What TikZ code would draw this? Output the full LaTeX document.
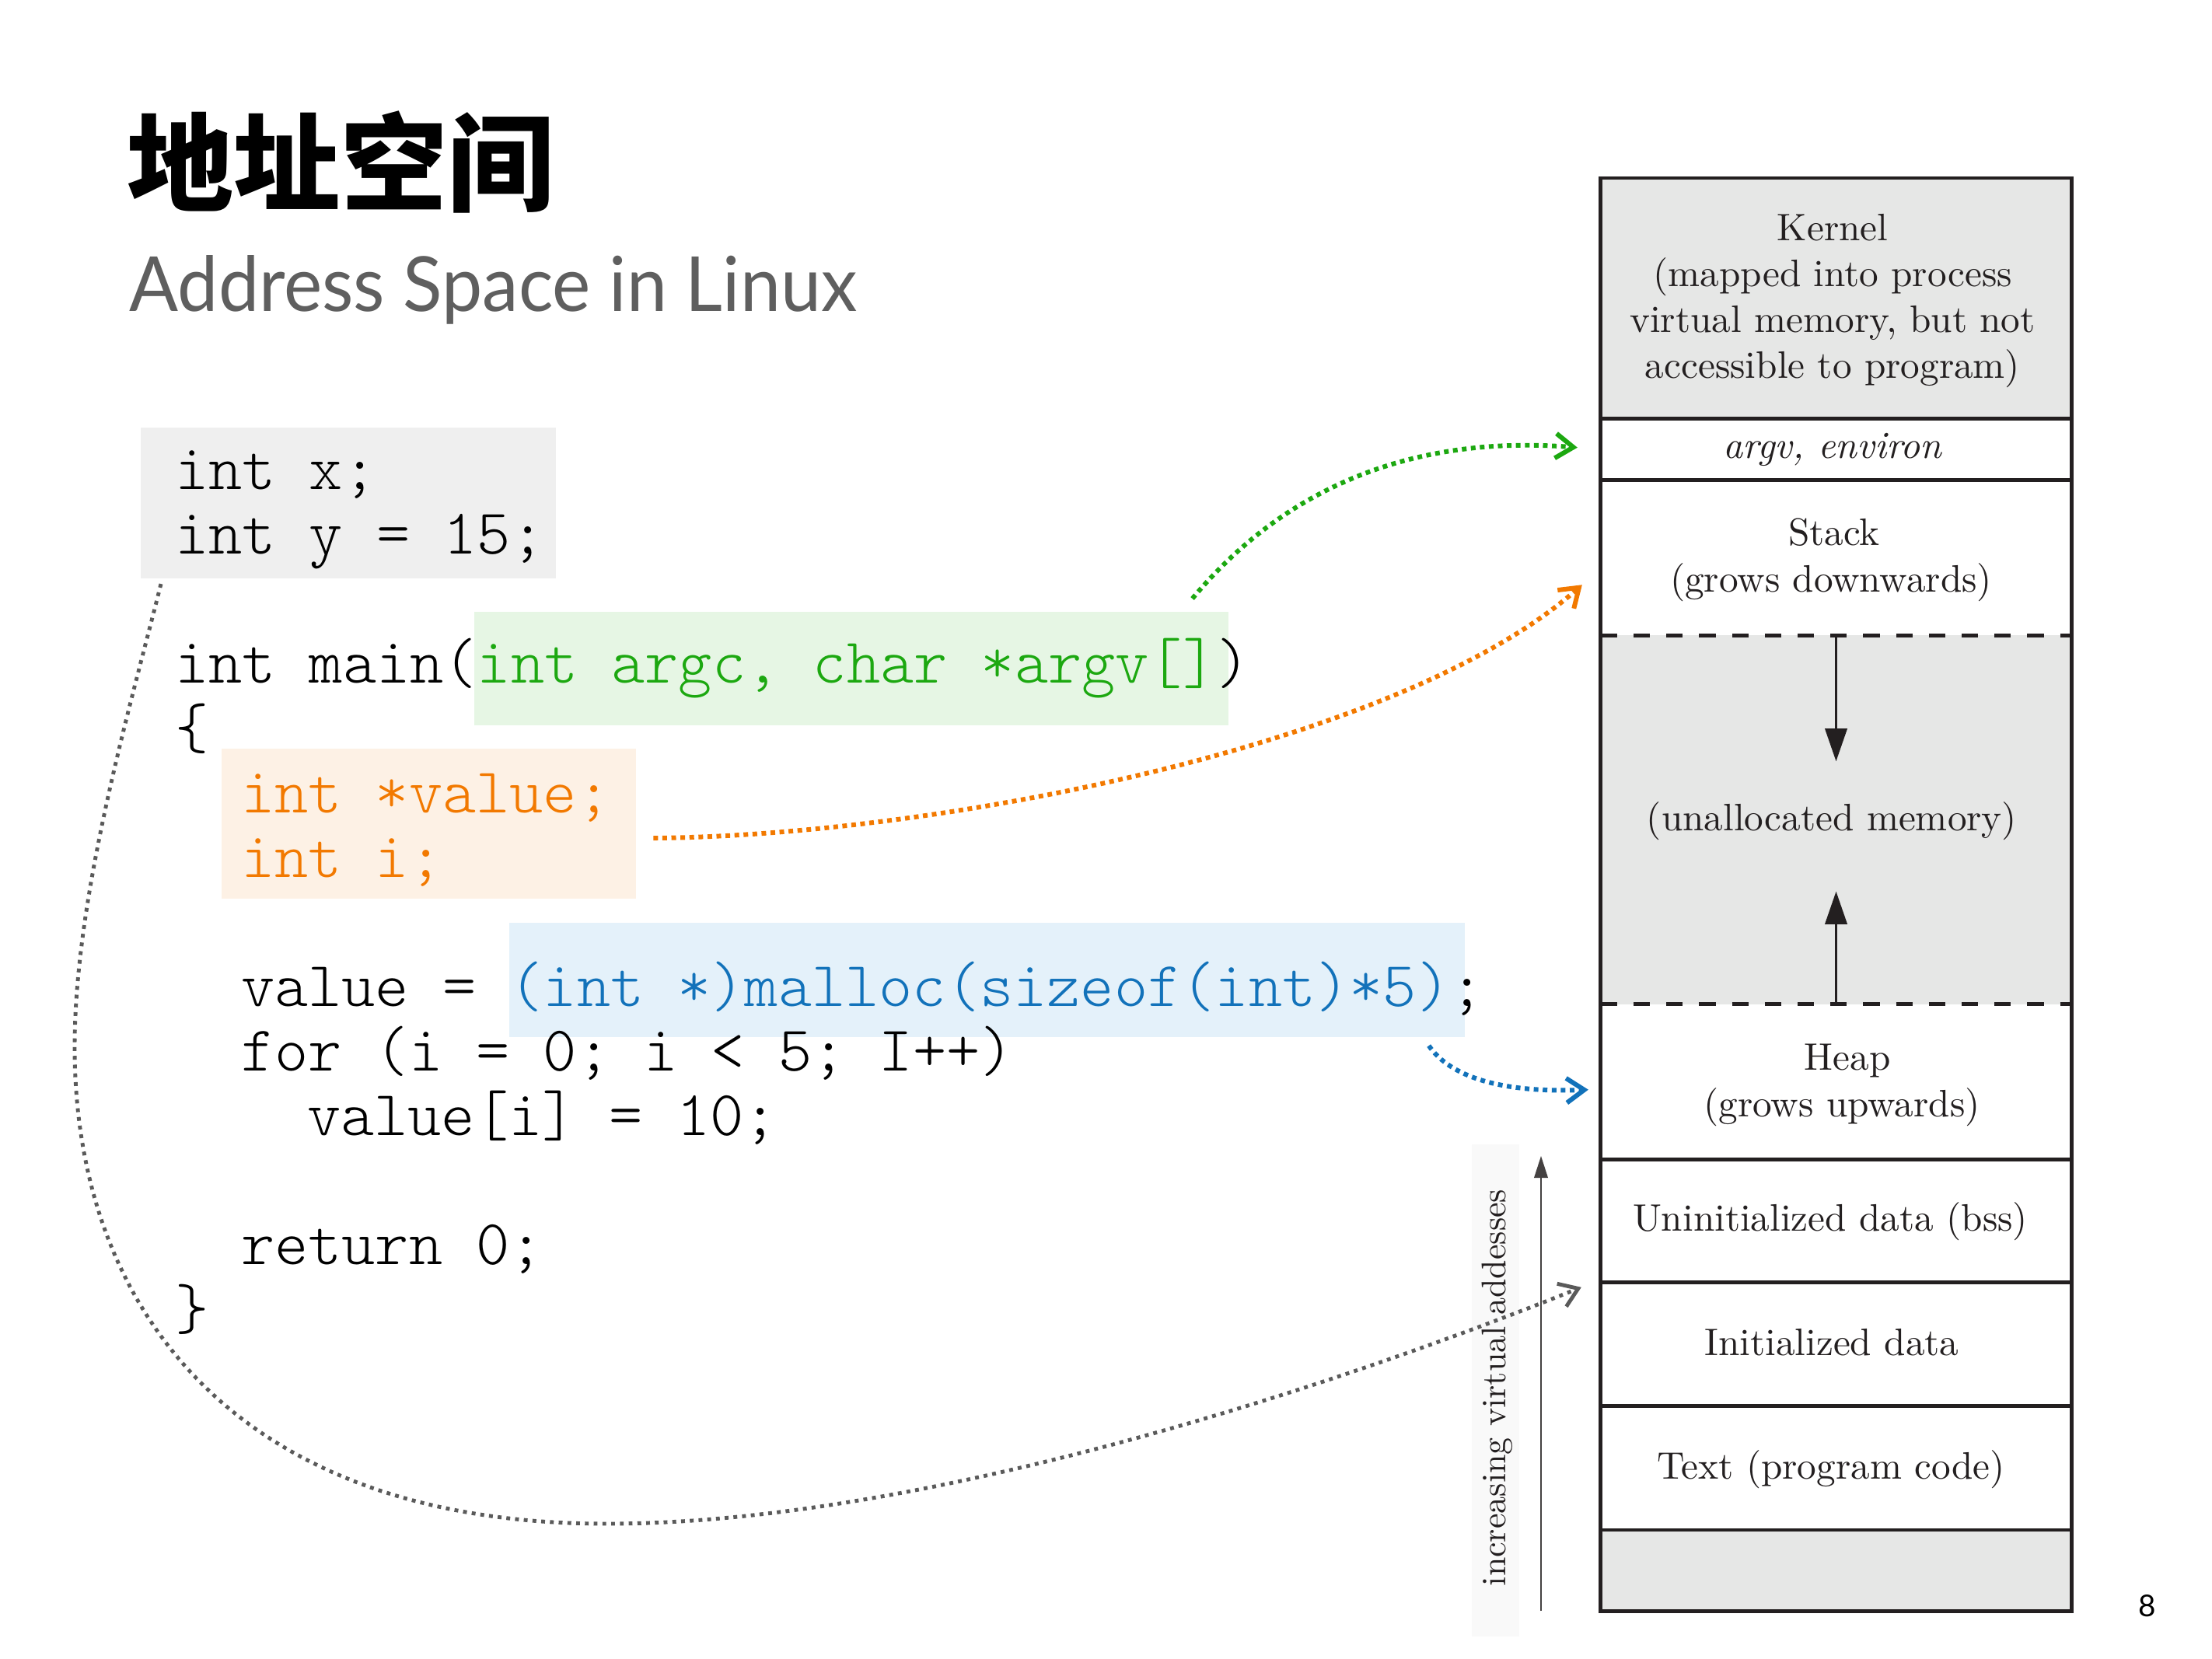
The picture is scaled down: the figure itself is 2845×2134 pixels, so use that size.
\documentclass[tikz,border=0pt]{standalone}
\usepackage{fontspec}
\usepackage{graphicx}
\newfontfamily\cjk{Noto Sans CJK SC}
\newfontfamily\latofont{Lato}
\newfontfamily\codefam{lmmonolt10-regular}[Extension=.otf]
\newfontfamily\memfam{lmroman10-regular}[Extension=.otf, ItalicFont=lmroman10-italic]
\usetikzlibrary{arrows.meta,calc}

\definecolor{memline}{RGB}{35,31,32}
\definecolor{memfill}{RGB}{230,231,230}
\definecolor{hlgray}{RGB}{239,239,239}
\definecolor{hlgreen}{RGB}{230,246,228}
\definecolor{hlorange}{RGB}{253,241,229}
\definecolor{hlblue}{RGB}{228,241,250}
\definecolor{cgreen}{RGB}{28,168,16}
\definecolor{corange}{RGB}{242,121,0}
\definecolor{cblue}{RGB}{18,114,186}
\definecolor{cgrayarrow}{RGB}{90,90,90}
\definecolor{subgray}{RGB}{95,95,95}
\definecolor{faintbg}{RGB}{249,249,249}

\newcommand\mycodefont{\codefam\fontsize{23.4}{27}\selectfont\frenchspacing}
\newcommand\mymemfont{\memfam\fontsize{14}{16}\selectfont}

\begin{document}
\begin{tikzpicture}[x=0.01cm,y=-0.01cm,
  hlbox/.style={anchor=north west, inner sep=0pt, outer sep=0pt, draw=none},
  codeline/.style={anchor=base west, inner sep=0pt, outer sep=0pt, font=\mycodefont},
  seg/.style={anchor=north, minimum width=6.05cm, inner sep=0pt, outer sep=0pt, draw=none},
  memtext/.style={anchor=base, inner sep=0pt, font=\mymemfont, text=memline},
  memborder/.style={draw=memline, line width=1.4pt},
  memdash/.style={draw=memline, line width=1.4pt, dash pattern=on 6pt off 6pt},
  growarrow/.style={draw=memline, line width=1pt, -{Triangle[length=12pt,width=8pt]}},
  addrarrow/.style={draw=memline!85, line width=0.6pt, -{Triangle[length=8pt,width=5pt]}},
  ptr/.style={line width=1.7pt, dash pattern=on 1.7pt off 1.6pt, -{Straight Barb[length=6.5pt,width=9pt]}}
]
\fill[white] (0,0) rectangle (2845,2134);
\useasboundingbox (0,0) rectangle (2845,2134);

% titles
\node[anchor=base west, inner sep=0pt, font=\cjk\bfseries\fontsize{39}{47}\selectfont] (title) at (163,262) {地址空间};
\node[anchor=base west, inner sep=0pt, font=\latofont\fontsize{27.8}{33}\selectfont, text=subgray] (subtitle) at (166,401) {\scalebox{0.953}[1]{Address Space in Linux}};
\node[anchor=base, inner sep=0pt, font=\latofont\fontsize{11}{13}\selectfont] (pagenum) at (2762,2079) {8};

% highlight boxes
\node[hlbox, fill=hlgray, minimum width=5.34cm, minimum height=1.94cm] (globals) at (181,550) {};
\node[hlbox, fill=hlgreen, minimum width=9.69cm, minimum height=1.46cm] (args) at (610,787) {};
\node[hlbox, fill=hlorange, minimum width=5.33cm, minimum height=1.93cm] (locals) at (285,963) {};
\node[hlbox, fill=hlblue, minimum width=12.28cm, minimum height=1.47cm] (mallocbox) at (655,1187) {};

% code
\node[codeline] (c0) at (225,630) {int x;};
\node[codeline] (c1) at (225,713) {int y = 15;};
\node[codeline] (c3) at (225,879) {int main(\textcolor{cgreen}{int argc, char *argv[]})};
\node[codeline] (c4) at (225,962) {\{};
\node[codeline, text=corange] (c5) at (310,1045) {int *value;};
\node[codeline, text=corange] (c6) at (310,1128) {int i;};
\node[codeline] (c8) at (310,1294) {value = \textcolor{cblue}{(int *)malloc(sizeof(int)*5)};};
\node[codeline] (c9) at (310,1377) {for (i = 0; i < 5; I++)};
\node[codeline] (c10) at (395,1460) {value[i] = 10;};
\node[codeline] (c12) at (310,1626) {return 0;};
\node[codeline] (c13) at (225,1709) {\}};

% memory column
\node[seg, fill=memfill, minimum height=3.09cm] (kernel) at (2361.5,229) {};
\node[seg, minimum height=0.79cm] (argvseg) at (kernel.south) {};
\node[seg, minimum height=2.00cm] (stack) at (argvseg.south) {};
\node[seg, fill=memfill, minimum height=4.74cm] (unalloc) at (stack.south) {};
\node[seg, minimum height=2.00cm] (heap) at (unalloc.south) {};
\node[seg, minimum height=1.58cm] (bss) at (heap.south) {};
\node[seg, minimum height=1.59cm] (initd) at (bss.south) {};
\node[seg, minimum height=1.59cm] (textseg) at (initd.south) {};
\node[seg, fill=memfill, minimum height=1.04cm] (bottomseg) at (textseg.south) {};

\coordinate (downtip) at ($(unalloc.north)+(0,162)$);
\coordinate (uptip) at ($(unalloc.south)+(0,-145)$);
\draw[growarrow] (unalloc.north) -- (downtip);
\draw[growarrow] (unalloc.south) -- (uptip);

\draw[memborder] (kernel.north west) rectangle (bottomseg.south east);
\foreach \s in {kernel,argvseg,heap,bss,initd,textseg}
  \draw[memborder] (\s.south west) -- (\s.south east);
\draw[memdash] (stack.south west) -- (stack.south east);
\draw[memdash] (unalloc.south west) -- (unalloc.south east);

% memory labels
\node[memtext] (k1) at (2357,310) {Kernel};
\node[memtext] (k2) at (2357,369) {(mapped into process};
\node[memtext] (k3) at (2357,428) {virtual memory, but not};
\node[memtext] (k4) at (2357,487) {accessible to program)};
\node[memtext, font=\mymemfont\itshape] (argvlbl) at (2357,590) {argv, environ};
\node[memtext] (st1) at (2359,702) {Stack};
\node[memtext] (st2) at (2355,762) {(grows downwards)};
\node[memtext] (ua) at (2356,1068) {(unallocated memory)};
\node[memtext] (hp1) at (2376,1376) {Heap};
\node[memtext] (hp2) at (2369,1436) {(grows upwards)};
\node[memtext] (bsslbl) at (2354,1583) {Uninitialized data (bss)};
\node[memtext] (initlbl) at (2356,1743) {Initialized data};
\node[memtext] (textlbl) at (2355,1902) {Text (program code)};

% address axis
\fill[faintbg] (1893,1472) rectangle (1954,2105);
\node[rotate=90, anchor=base, inner sep=0pt, font=\memfam\fontsize{12.5}{15}\selectfont, text=memline] (incr) at (1936,1785) {increasing virtual addesses};
\coordinate (addrbot) at (1982,2072);
\coordinate (addrtop) at (1982,1487);
\draw[addrarrow] (addrbot) -- (addrtop);

% pointer connectors
\coordinate (gs) at ($(args.north east)+(-46,-17)$);
\coordinate (ge) at ($(argvseg.west)+(-30,-2)$);
\draw[ptr, draw=cgreen] (gs) .. controls (1660,618) and (1830,560) .. (ge);

\coordinate (os) at ($(locals.east)+(22,18.5)$);
\coordinate (oe) at ($(stack.west)+(-24,35)$);
\draw[ptr, draw=corange] (os) .. controls (1200,1075) and (1800,960) .. (oe);

\coordinate (bs) at ($(mallocbox.south east)+(-46,11)$);
\coordinate (be) at ($(heap.west)+(-16,10)$);
\draw[ptr, draw=cblue] (bs) .. controls (1865,1385) and (1930,1406) .. (be);

\coordinate (ys) at ($(globals.south west)+(26,7)$);
\coordinate (ye) at ($(bss.south west)+(-25,6)$);
\coordinate (yw1) at (96,1347);
\coordinate (yw2) at (780,1960);
\draw[ptr, draw=cgrayarrow, line width=1.4pt, dash pattern=on 1.4pt off 1.8pt]
  (ys) .. controls (170,900) and (96,1150) .. (yw1)
       .. controls (96,1680) and (300,1960) .. (yw2)
       .. controls (1200,1960) and (1750,1770) .. (ye);
\end{tikzpicture}
\end{document}
